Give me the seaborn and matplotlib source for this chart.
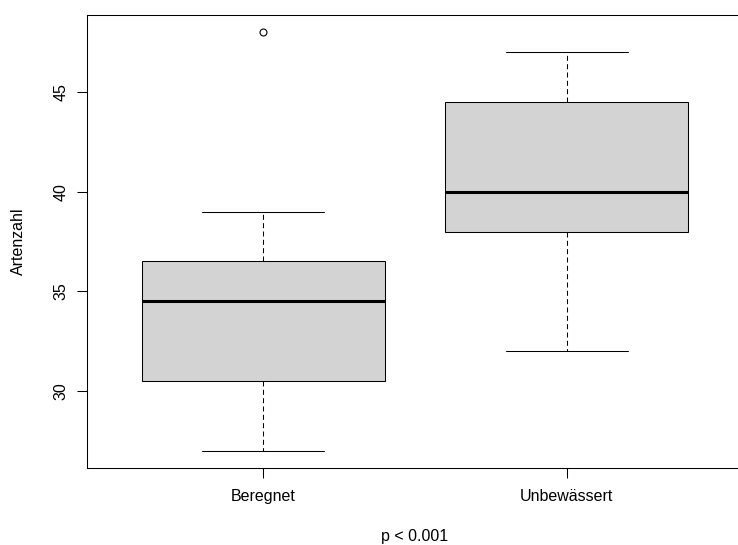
import matplotlib
matplotlib.use("Agg")
import matplotlib.pyplot as plt
import seaborn as sns
import pandas as pd

# Data (chosen so that the box statistics match the picture)
groups = ["Beregnet", "Unbewässert"]
beregnet = [27, 29, 30.5, 33, 34.5, 35, 36.5, 39, 48]
unbewaessert = [32, 36, 38, 39, 40, 42, 44.5, 46, 47]
y_ticks = [30, 35, 40, 45]

df = pd.DataFrame({
    "Gruppe": [groups[0]] * len(beregnet) + [groups[1]] * len(unbewaessert),
    "Artenzahl": beregnet + unbewaessert,
})

sns.set_style("white")
plt.rcParams["font.family"] = ["Liberation Sans", "DejaVu Sans"]

fig = plt.figure(figsize=(7.38, 5.45), dpi=100)
ax = fig.add_axes([87 / 738, 1 - 468 / 545, (743 - 87) / 738, (468 - 15) / 545])

lw = 0.75
sns.boxplot(
    data=df, x="Gruppe", y="Artenzahl", order=groups, ax=ax,
    color="#D3D3D3", linecolor="black", linewidth=lw, width=0.8,
    whis=1.5, saturation=1,
    capwidths=0.4,
    whiskerprops=dict(linestyle=(0, (4.8, 3.2)), color="black", linewidth=lw),
    capprops=dict(color="black", linewidth=lw),
    medianprops=dict(color="black", linewidth=2.2),
    boxprops=dict(edgecolor="black", facecolor="#D3D3D3", linewidth=lw),
    flierprops=dict(marker="o", markersize=5, markerfacecolor="none",
                    markeredgecolor="black", markeredgewidth=0.8),
)

ax.set_xlim(-0.58, 1.58)
ax.set_ylim(26.16, 48.84)
ax.set_yticks(y_ticks)
ax.set_yticklabels([str(t) for t in y_ticks], rotation=90, va="center")

for s in ax.spines.values():
    s.set_visible(True)
    s.set_color("black")
    s.set_linewidth(0.75)

ax.tick_params(axis="both", direction="out", length=7, width=0.75, color="black",
               labelsize=11.5, labelcolor="black", left=True, bottom=True)
ax.tick_params(axis="y", pad=6)
ax.tick_params(axis="x", pad=8)

ax.set_xlabel("")
ax.set_ylabel("")
fig.text(18 / 738, 1 - 241 / 545, "Artenzahl", rotation=90, ha="center", va="center",
         fontsize=11.5, color="black")
fig.text(415 / 738, 1 - 537 / 545, "p < 0.001", ha="center", va="center",
         fontsize=11.5, color="black")

fig.savefig("out.png", dpi=100)
